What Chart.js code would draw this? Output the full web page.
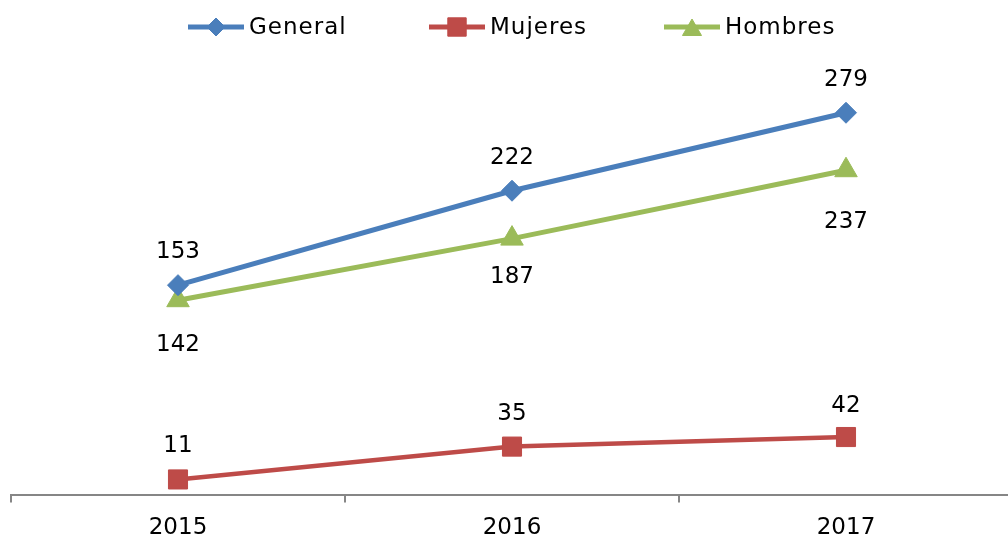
<!DOCTYPE html>
<html>
<head>
<meta charset="utf-8">
<script src="https://cdn.jsdelivr.net/npm/chart.js@4"></script>
<style>
  html, body { margin: 0; padding: 0; background: #fff; overflow: hidden; }
  #wrap { width: 1014px; height: 539px; }
</style>
</head>
<body>
<div id="wrap"><canvas id="lineChart" width="1014" height="539"></canvas></div>
<script>
  "use strict";

  var years = ["2015", "2016", "2017"];
  var general = [153, 222, 279];
  var mujeres = [11, 35, 42];
  var hombres = [142, 187, 237];

  var FONT = "'DejaVu Sans', sans-serif";

  // value labels above / below each point
  var valueLabels = {
    id: "valueLabels",
    afterDatasetsDraw: function (chart) {
      var ctx = chart.ctx;
      ctx.save();
      ctx.font = "23px " + FONT;
      ctx.fillStyle = "#000";
      ctx.textAlign = "center";
      ctx.textBaseline = "middle";
      chart.data.datasets.forEach(function (ds, i) {
        var meta = chart.getDatasetMeta(i);
        meta.data.forEach(function (pt, j) {
          ctx.fillText(String(ds.data[j]), pt.x, pt.y + ds.labelOffsets[j]);
        });
      });
      ctx.restore();
    },
  };

  // legend drawn as line + marker, like the office style
  var lineLegend = {
    id: "lineLegend",
    afterDraw: function (chart) {
      var ctx = chart.ctx;
      var starts = [188, 429, 664];
      var y = 27;
      ctx.save();
      chart.data.datasets.forEach(function (ds, i) {
        var x0 = starts[i];
        ctx.strokeStyle = ds.borderColor;
        ctx.lineWidth = 5;
        ctx.beginPath();
        ctx.moveTo(x0, y);
        ctx.lineTo(x0 + 56, y);
        ctx.stroke();
        ctx.fillStyle = ds.borderColor;
        ctx.strokeStyle = ds.borderColor;
        ctx.lineWidth = 1;
        Chart.helpers.drawPoint(ctx, {
          pointStyle: ds.pointStyle,
          radius: ds.legendRadius,
          borderWidth: 1,
          rotation: 0,
        }, x0 + 28, y + (ds.pointStyle === "triangle" ? 3 : 0));
        ctx.fillStyle = "#000";
        ctx.font = "23px " + FONT;
        ctx.letterSpacing = "1px";
        ctx.textAlign = "left";
        ctx.textBaseline = "middle";
        ctx.fillText(ds.label, x0 + 61, y + 1);
      });
      ctx.restore();
    },
  };

  new Chart(document.getElementById("lineChart"), {
    type: "line",
    data: {
      labels: years,
      datasets: [
        {
          label: "General",
          data: general,
          borderColor: "#4a7ebb",
          backgroundColor: "#4a7ebb",
          borderWidth: 5,
          pointStyle: "rectRot",
          pointRadius: 10.5,
          pointBorderWidth: 1,
          legendRadius: 9,
          labelOffsets: [-33, -33, -33],
        },
        {
          label: "Mujeres",
          data: mujeres,
          borderColor: "#be4b48",
          backgroundColor: "#be4b48",
          borderWidth: 4.5,
          pointStyle: "rect",
          pointRadius: 13.5,
          pointBorderWidth: 1,
          legendRadius: 13,
          labelOffsets: [-33, -33, -31],
        },
        {
          label: "Hombres",
          data: hombres,
          borderColor: "#9bbb59",
          backgroundColor: "#9bbb59",
          borderWidth: 5,
          pointStyle: "triangle",
          pointRadius: 13,
          pointBorderWidth: 1,
          legendRadius: 11,
          labelOffsets: [45, 38, 52],
        },
      ],
    },
    options: {
      responsive: false,
      animation: false,
      layout: {
        autoPadding: false,
        padding: { top: 84, left: 11, right: 1, bottom: 0 },
      },
      plugins: {
        legend: { display: false },
        tooltip: { enabled: false },
      },
      elements: { line: { tension: 0 } },
      datasets: { line: { clip: false } },
      scales: {
        x: {
          offset: true,
          grid: {
            offset: true,
            drawOnChartArea: false,
            drawTicks: true,
            tickLength: 8,
            color: "#868686",
            lineWidth: 2,
          },
          border: { display: true, color: "#868686", width: 2 },
          ticks: {
            color: "#000",
            font: { family: FONT, size: 23 },
            padding: 12,
            maxRotation: 0,
          },
          afterFit: function (scale) {
            scale.paddingLeft = 0;
            scale.paddingRight = 0;
            scale.height = 44.5;
          },
        },
        y: { display: false, min: 0, max: 300 },
      },
    },
    plugins: [valueLabels, lineLegend],
  });
</script>
</body>
</html>
